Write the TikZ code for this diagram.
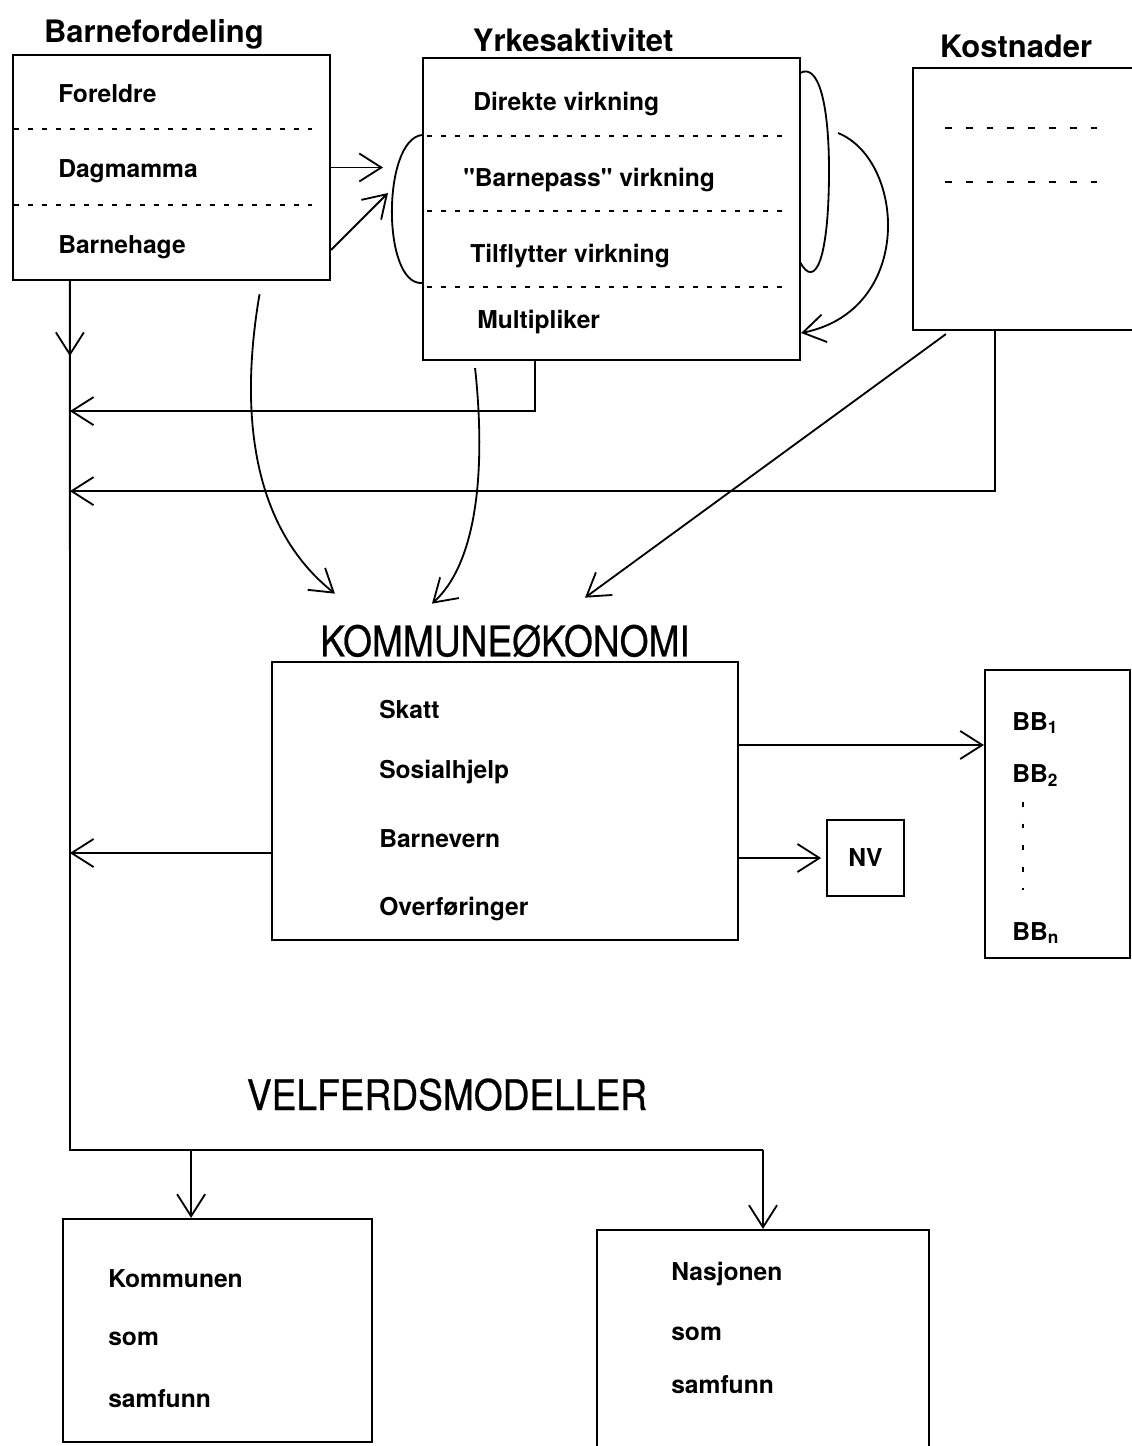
\documentclass[tikz,border=0pt]{standalone}
\usepackage{fontspec}
\setmainfont{TeX Gyre Heros}
\usetikzlibrary{arrows.meta,positioning}

\begin{document}
\begin{tikzpicture}[
    x=0.025cm, y=-0.025cm,
    box/.style={rectangle, draw, line width=1.5pt, inner sep=0pt},
    title/.style={font=\bfseries\fontsize{22}{26}\selectfont, inner sep=2pt},
    bigtitle/.style={font=\fontsize{30}{34}\selectfont\addfontfeatures{FakeStretch=0.88,FakeBold=0.6}, inner sep=2pt},
    itemfont/.style={font=\bfseries\fontsize{17.5}{21}\selectfont},
    item/.style={itemfont, anchor=base west, inner sep=0pt},
    sep/.style={line width=1.2pt, dash pattern=on 0.125cm off 0.225cm},
    sepwide/.style={line width=1.6pt, dash pattern=on 0.17cm off 0.35cm},
    link/.style={line width=1.3pt},
    arrow/.style={-{Straight Barb[length=0.55cm,width=0.7cm]}, line width=1.3pt}
  ]
    \useasboundingbox (0,0) rectangle (1131,1446);

    % boxes
    \node[box, minimum width=7.925cm, minimum height=5.625cm] (barn) at (171.5,167.5) {};
    \node[box, minimum width=9.425cm, minimum height=7.55cm] (yrke) at (611.5,209) {};
    \node[box, minimum width=5.675cm, minimum height=6.55cm] (kost) at (1026.5,199) {};
    \node[box, minimum width=11.65cm, minimum height=6.95cm] (komm) at (505,801) {};
    \node[box, itemfont, minimum width=1.925cm, minimum height=1.9cm] (nv) at (865.5,858) {NV};
    \node[box, minimum width=3.625cm, minimum height=7.2cm] (bb) at (1057.5,814) {};
    \node[box, minimum width=7.725cm, minimum height=5.575cm] (kommunen) at (217.5,1330.5) {};
    \node[box, minimum width=8.3cm, minimum height=5.75cm] (nasjon) at (763,1345) {};

    % titles
    \node[title, above=0.05cm of barn, xshift=-0.44cm] (barntitle) {Barnefordeling};
    \node[title, above=0.05cm of yrke, xshift=-0.96cm] (yrketitle) {Yrkesaktivitet};
    \node[title, above=0.15cm of kost, xshift=-0.26cm] (kosttitle) {Kostnader};
    \node[bigtitle, above=0.02cm of komm] (kommtitle) {KOMMUNEØKONOMI};
    \node[bigtitle, anchor=base] (velftitle) at (447,1110) {VELFERDSMODELLER};

    % entries
    \node[item] (foreldre)  at (58,102) {Foreldre};
    \node[item] (dagmamma)  at (58,177) {Dagmamma};
    \node[item] (barnehage) at (58,253) {Barnehage};

    \node[item] (direkte) at (473,110) {Direkte virkning};
    \node[item] (pass)    at (463,186) {\textquotedbl Barnepass\textquotedbl{} virkning};
    \node[item] (tilfl)   at (470,262) {Tilflytter virkning};
    \node[item] (multi)   at (477,328) {Multipliker};

    \node[item] (skatt)   at (379,718) {Skatt};
    \node[item] (sosial)  at (379,778) {Sosialhjelp};
    \node[item] (vern)    at (379,847) {Barnevern};
    \node[item] (overf)   at (379,915) {Overføringer};

    \node[item] (bb1) at (1012,730) {BB\textsubscript{1}};
    \node[item] (bb2) at (1012,782) {BB\textsubscript{2}};
    \node[item] (bbn) at (1012,940) {BB\textsubscript{n}};
    \draw[line width=1.6pt, dash pattern=on 0.12cm off 0.42cm] (1023,802) -- (1023,890);

    \node[item] (kom1) at (108,1287) {Kommunen};
    \node[item] (kom2) at (108,1345) {som};
    \node[item] (kom3) at (108,1407) {samfunn};
    \node[item] (nas1) at (671,1280) {Nasjonen};
    \node[item] (nas2) at (671,1340) {som};
    \node[item] (nas3) at (671,1393) {samfunn};

    % separators
    \foreach \y in {129,205} \draw[sep] (14,\y) -- (312,\y);
    \foreach \y in {136,211,287} \draw[sep] (427,\y) -- (788,\y);
    \foreach \y in {128,182} \draw[sepwide] (945,\y) -- (1098,\y);

    % brackets round Yrkesaktivitet
    \draw[link] ([yshift=1.85cm]yrke.west) .. controls +(-40,5) and +(-40,2) .. ([yshift=-1.85cm]yrke.west);
    \draw[link] (800,73) .. controls (820,62) and (829,110) .. (829,170)
                .. controls (829,260) and (815,290) .. (800,262);
    \draw[arrow] (838,133) .. controls (905,160) and (915,310) .. ([yshift=-3.1cm]yrke.east);

    % Barnefordeling -> Yrkesaktivitet
    \coordinate (lbr) at (395,210);
    \coordinate (lbrin) at (388,193);
    \draw[arrow, shorten >=0.3cm] (barn.east) -- (barn.east -| lbr);
    \draw[arrow] ([yshift=-2.06cm]barn.east) -- (lbrin);

    % trunk on the left
    \coordinate (trunk) at ([xshift=-2.54cm]barn.south);
    \coordinate (split) at (70,1150);
    \draw[link] (trunk) -- (split) -- (split -| nasjon.north);
    \draw[arrow] (trunk) -- ++(0,75);
    \coordinate (kin) at ([xshift=-0.66cm]kommunen.north);
    \draw[arrow] (kin |- split) -- (kin);
    \draw[arrow] (nasjon.north |- split) -- (nasjon.north);

    \coordinate (yout) at ([xshift=-1.91cm,yshift=-1.25cm]yrke.south);
    \draw[arrow] ([xshift=-1.91cm]yrke.south) -- (yout) -- (yout -| trunk);
    \coordinate (kout) at ([xshift=-0.79cm,yshift=-4cm]kost.south);
    \draw[arrow] ([xshift=-0.79cm]kost.south) -- (kout) -- (kout -| trunk);
    \coordinate (kwest) at ([yshift=-1.3cm]komm.west);
    \draw[arrow] (kwest) -- (kwest -| trunk);

    % into KOMMUNEOKONOMI
    \draw[arrow] ([xshift=2.2cm,yshift=-0.33cm]barn.south) .. controls (238,420) and (255,530) .. ([xshift=-4.25cm,yshift=0.7cm]kommtitle.north);
    \draw[arrow] ([xshift=-3.41cm,yshift=-0.175cm]yrke.south) .. controls (485,460) and (480,560) .. ([xshift=-1.825cm,yshift=0.45cm]kommtitle.north);
    \draw[arrow] ([xshift=0.85cm,yshift=-0.075cm]kost.south west) -- ([xshift=2cm,yshift=0.6cm]kommtitle.north);

    % out of KOMMUNEOKONOMI
    \coordinate (keast) at ([yshift=1.4cm]komm.east);
    \draw[arrow] (keast) -- (keast -| bb.west);
    \draw[arrow, shorten >=0.12cm] (komm.east |- nv.west) -- (nv.west);
  \end{tikzpicture}
\end{document}
